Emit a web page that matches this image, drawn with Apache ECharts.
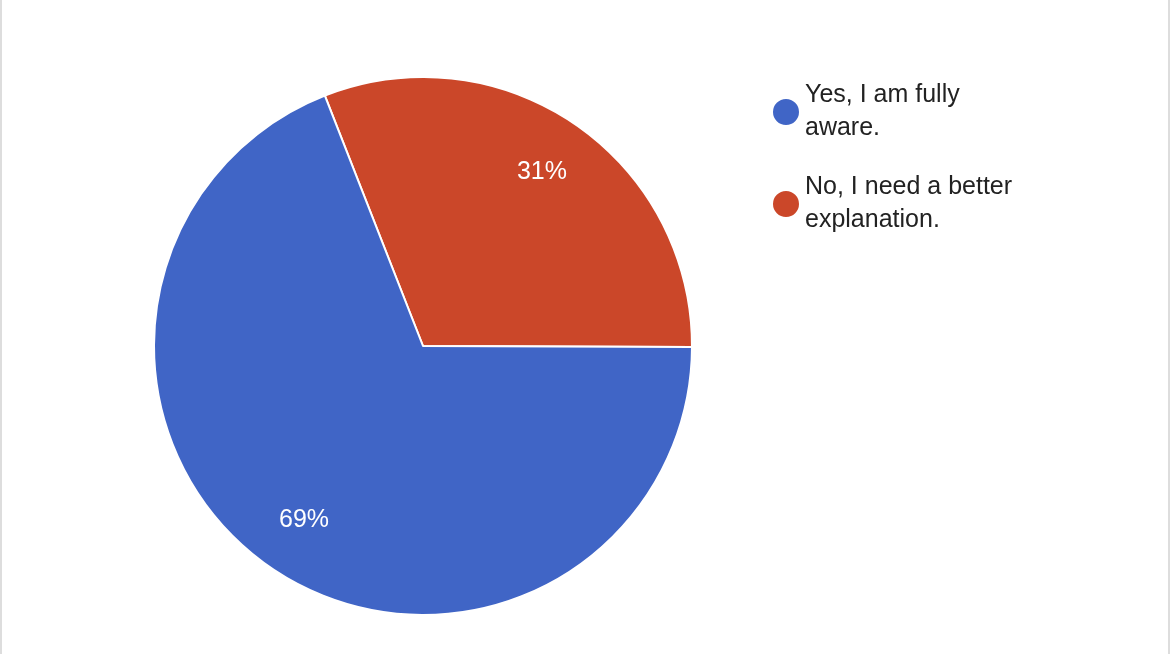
<!DOCTYPE html>
<html>
<head>
<meta charset="utf-8">
<script src="https://cdn.jsdelivr.net/npm/echarts@6/dist/echarts.min.js"></script>
<style>
  html, body { margin: 0; padding: 0; background: #fff; }
  #chart { width: 1166px; height: 654px; border-left: 2px solid #ddd; border-right: 2px solid #ddd; }
</style>
</head>
<body>
<div id="chart"></div>
<script>
let names = ['No, I need a better\nexplanation.', 'Yes, I am fully\naware.'];
let values = [31, 69];
let colors = ['#cb4729', '#4065c6'];

let chartData = names.map((n, i) => ({ name: n, value: values[i], itemStyle: { color: colors[i] } }));

let myChart = echarts.init(document.getElementById('chart'));
let option = {
    animation: false,
    legend: {
        orient: 'vertical',
        left: 764,
        top: 74,
        icon: 'circle',
        itemWidth: 28,
        itemHeight: 28,
        itemGap: 26,
        data: [names[1], names[0]],
        textStyle: { fontSize: 25, color: '#222', fontFamily: 'Liberation Sans', lineHeight: 33 }
    },
    series: [
        {
            type: 'pie',
            center: [421, 346],
            radius: [0, 269],
            startAngle: 111.4,
            data: chartData,
            label: { show: false },
            labelLine: { show: false },
            itemStyle: { borderColor: '#fff', borderWidth: 2 }
        },
        {
            // label ring, placed further out like the original
            type: 'pie',
            center: [421, 346],
            radius: [146, 269],
            startAngle: 111.4,
            silent: true,
            legendHoverLink: false,
            data: names.map((n, i) => ({ name: n + ' ', value: values[i] })),
            itemStyle: { color: 'rgba(0,0,0,0)' },
            label: {
                show: true,
                position: 'inside',
                formatter: '{d}%',
                color: '#fff',
                fontSize: 25,
                fontFamily: 'Liberation Sans'
            },
            labelLine: { show: false }
        }
    ]
};
myChart.setOption(option);
</script>
</body>
</html>
